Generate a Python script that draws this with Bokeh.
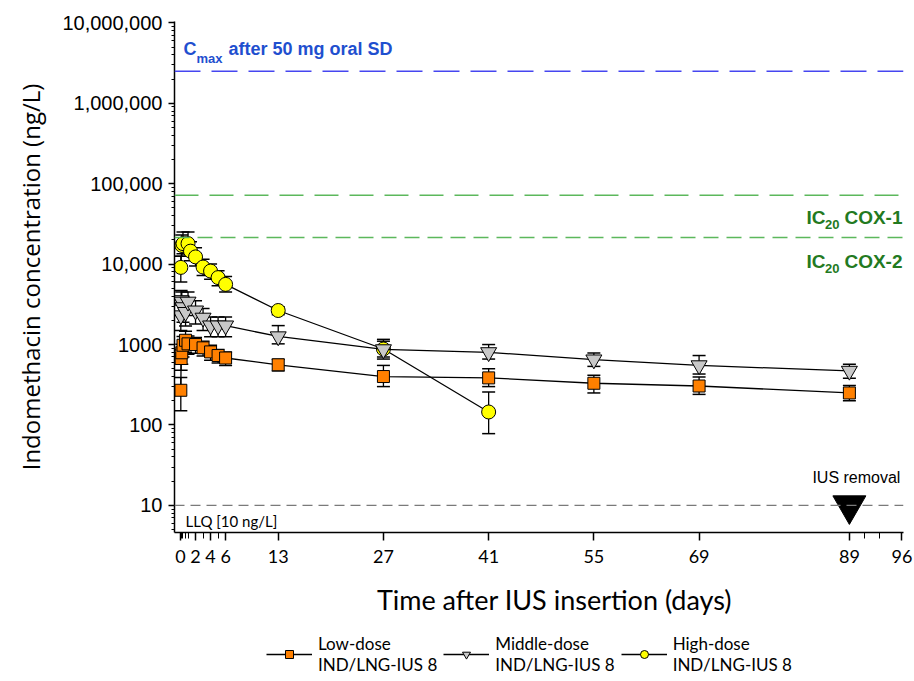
from bokeh.plotting import figure
from bokeh.layouts import column
from bokeh.models import (ColumnDataSource, Whisker, TeeHead, Span, Label, Range1d,
                          FixedTicker, CustomJSTickFormatter, Legend, LegendItem)
from bokeh.embed import file_html
from bokeh.resources import INLINE

# ---------------- data ----------------
low_days = [0.04, 0.08, 0.17, 0.33, 0.67, 1, 2, 3, 4, 5, 6, 13, 27, 41, 55, 69, 89]
low_mean = [270, 670, 790, 980, 1130, 1020, 1000, 910, 810, 730, 680, 560, 400, 385, 330, 305, 250]
low_lo = [150, 480, 570, 700, 800, 760, 780, 720, 640, 590, 550, 470, 300, 300, 250, 240, 200]
low_hi = [390, 860, 1010, 1260, 1460, 1280, 1220, 1100, 980, 870, 810, 655, 550, 500, 415, 395, 310]

mid_days = [0.04, 0.08, 0.17, 0.33, 0.67, 1, 2, 3, 4, 5, 6, 13, 27, 41, 55, 69, 89]
mid_mean = [2300, 3550, 3400, 2900, 2530, 3400, 2640, 2150, 1720, 1720, 1720, 1260, 870, 800, 650, 550, 470]
mid_lo = [1500, 2400, 2300, 1900, 1700, 2300, 1800, 1500, 1250, 1250, 1250, 1020, 660, 660, 535, 430, 380]
mid_hi = [3100, 4700, 4500, 3900, 3400, 4500, 3500, 2800, 2200, 2200, 2200, 1720, 1160, 1000, 785, 730, 570]

high_days = [0.04, 0.17, 0.33, 1, 1.33, 2, 3, 4, 5, 6, 13, 27, 41]
high_mean = [9100, 17100, 18000, 18000, 14500, 12300, 9200, 8200, 6800, 5600, 2650, 880, 145]
high_lo = [6000, 12500, 13500, 13500, 11000, 9500, 7200, 6500, 5400, 4500, 2350, 700, 78]
high_hi = [12500, 23000, 25000, 25000, 19000, 16000, 11500, 10000, 8300, 7000, 2950, 1100, 257]

cmax_50mg = 2.5e6
ic20_cox1 = 72000
ic20_cox2 = 21500
llq = 10
removal_day = 89

x_ticks = [0, 2, 4, 6, 13, 27, 41, 55, 69, 89, 96]
x_minor = [0.04, 0.17, 0.33, 0.67, 1, 3, 5, 91, 93]
y_ticks = [10, 100, 1000, 10000, 100000, 1000000, 10000000]

series_names = ["Low-dose\nIND/LNG-IUS 8", "Middle-dose\nIND/LNG-IUS 8", "High-dose\nIND/LNG-IUS 8"]

# ---------------- main figure ----------------
p = figure(frame_width=729, frame_height=511, y_axis_type="log",
           x_range=Range1d(-0.8, 96.2), y_range=Range1d(4.6, 1.04e7),
           output_backend="svg", toolbar_location=None,
           min_border_left=174, min_border_right=11, min_border_top=21, min_border_bottom=40)
p.outline_line_color = None
p.grid.visible = False

p.xaxis.ticker = FixedTicker(ticks=x_ticks, minor_ticks=x_minor)
p.yaxis.ticker = FixedTicker(ticks=y_ticks,
                             minor_ticks=[m * 10 ** e for e in range(0, 7) for m in range(2, 10)])
p.yaxis.formatter = CustomJSTickFormatter(code="""
    const v = Math.round(tick);
    return v >= 10000 ? v.toLocaleString('en-US') : v.toString();
""")
for ax in (p.xaxis[0], p.yaxis[0]):
    ax.axis_line_color = "black"
    ax.axis_line_width = 1.5
    ax.major_tick_line_color = "black"
    ax.minor_tick_line_color = "black"
    ax.major_tick_line_width = 1.5
    ax.major_tick_in = 0
    ax.minor_tick_in = 0
p.xaxis.major_tick_out = 8
p.xaxis.minor_tick_out = 6
p.yaxis.major_tick_out = 6
p.yaxis.minor_tick_out = 3

p.xaxis.major_label_text_font = "Lato"
p.xaxis.major_label_text_font_size = "18px"
p.xaxis.major_label_text_color = "black"
p.xaxis.major_label_standoff = 9

p.yaxis.major_label_text_font = "Liberation Sans"
p.yaxis.major_label_text_font_size = "20px"
p.yaxis.major_label_text_color = "black"
p.yaxis.major_label_standoff = 6
p.yaxis.axis_label = "Indomethacin concentration (ng/L)"
p.yaxis.axis_label_text_font = "Open Sans"
p.yaxis.axis_label_text_font_size = "24px"
p.yaxis.axis_label_text_font_style = "normal"
p.yaxis.axis_label_text_color = "black"
p.yaxis.axis_label_standoff = 12

# reference lines
p.add_layout(Span(location=cmax_50mg, dimension="width", line_color="#4646f0",
                  line_width=1.5, line_dash="26 11"))
p.add_layout(Span(location=ic20_cox1, dimension="width", line_color="#5cb85c",
                  line_width=1.5, line_dash="24 11"))
p.add_layout(Span(location=ic20_cox2, dimension="width", line_color="#5cb85c",
                  line_width=1.5, line_dash="15 8"))
p.add_layout(Span(location=llq, dimension="width", line_color="#7a7a7a",
                  line_width=1.2, line_dash="10 6"))

# reference labels
blue = "#1f4fcf"
green = "#237a1f"
p.add_layout(Label(x=0, y=cmax_50mg, x_offset=3, y_offset=22, text="C", text_font="Liberation Sans",
                   text_font_size="18px", text_font_style="bold", text_color=blue, text_baseline="middle"))
p.add_layout(Label(x=0, y=cmax_50mg, x_offset=16, y_offset=13, text="max", text_font="Liberation Sans",
                   text_font_size="13px", text_font_style="bold", text_color=blue, text_baseline="middle"))
p.add_layout(Label(x=0, y=cmax_50mg, x_offset=48, y_offset=22, text="after 50 mg oral SD",
                   text_font="Liberation Sans", text_font_size="18px", text_font_style="bold",
                   text_color=blue, text_baseline="middle"))

for val, dy, name in ((ic20_cox1, -22, "COX-1"), (ic20_cox2, -24, "COX-2")):
    p.add_layout(Label(x=96.2, y=val, x_offset=-1, y_offset=dy, text=name, text_font="Liberation Sans",
                       text_font_size="19px", text_font_style="bold", text_color=green,
                       text_align="right", text_baseline="middle"))
    p.add_layout(Label(x=96.2, y=val, x_offset=-64, y_offset=dy - 7, text="20", text_font="Liberation Sans",
                       text_font_size="13px", text_font_style="bold", text_color=green,
                       text_align="right", text_baseline="middle"))
    p.add_layout(Label(x=96.2, y=val, x_offset=-78, y_offset=dy, text="IC", text_font="Liberation Sans",
                       text_font_size="19px", text_font_style="bold", text_color=green,
                       text_align="right", text_baseline="middle"))

p.add_layout(Label(x=0, y=llq, x_offset=5, y_offset=-16, text="LLQ [10 ng/L]", text_font="Lato",
                   text_font_size="15px", text_color="black", text_baseline="middle"))
p.add_layout(Label(x=removal_day, y=llq, x_offset=7, y_offset=28, text="IUS removal",
                   text_font="Liberation Sans", text_font_size="16px", text_color="black",
                   text_align="center", text_baseline="middle"))

p.scatter(x=[removal_day], y=[llq], marker="inverted_triangle", size=33,
          fill_color="black", line_color="black")

series = [
    (series_names[2], high_days, high_mean, high_lo, high_hi, "circle", 14, "#FFFF00"),
    (series_names[1], mid_days, mid_mean, mid_lo, mid_hi, "inverted_triangle", 16, "#C8C8C8"),
    (series_names[0], low_days, low_mean, low_lo, low_hi, "square", 12, "#FF8000"),
]
style = {}
for label, d, m, lo, hi, mk, sz, col in series:
    src = ColumnDataSource(dict(day=d, mean=m, lo=lo, hi=hi))
    p.add_layout(Whisker(source=src, base="day", lower="lo", upper="hi", line_color="black", line_width=1.3,
                         upper_head=TeeHead(size=13, line_color="black", line_width=1.5),
                         lower_head=TeeHead(size=13, line_color="black", line_width=1.5)))
    p.line("day", "mean", source=src, line_color="black", line_width=1.3)
    p.scatter("day", "mean", source=src, marker=mk, size=sz, fill_color=col,
              line_color="black", line_width=1)
    style[label] = (mk, sz, col)

# ---------------- bottom strip: x-axis title and legend ----------------
# the strip's frame is aligned with the main frame (page x 174..903), so its
# x range is expressed in page pixels.
p2 = figure(width=914, height=109, x_range=Range1d(174, 903), y_range=Range1d(0, 109),
            output_backend="svg", toolbar_location=None,
            min_border_left=174, min_border_right=11, min_border_top=0, min_border_bottom=0)
p2.axis.visible = False
p2.grid.visible = False
p2.outline_line_color = None

p2.add_layout(Label(x=554, y=82, text="Time after IUS insertion (days)", text_font="Lato",
                    text_font_size="27px", text_color="black",
                    text_align="center", text_baseline="middle"))

nan = float("nan")
items = []
for name in series_names:
    mk, sz, col = style[name]
    ln = p2.line(x=[nan], y=[nan], line_color="black", line_width=1.3)
    sc = p2.scatter(x=[nan], y=[nan], marker=mk, size=sz, fill_color=col, line_color="black", line_width=1)
    items.append(LegendItem(label=name, renderers=[ln, sc]))

legend = Legend(items=items, orientation="horizontal", location=(92, 6),
                label_text_font="Lato", label_text_font_size="17px", label_text_color="black",
                label_text_line_height=1.45,
                glyph_width=46, glyph_height=20, label_standoff=6, spacing=6,
                border_line_color=None, background_fill_alpha=0, padding=2, margin=0)
p2.add_layout(legend)

layout = column(p, p2, spacing=0)
open("out.html", "w").write(file_html(layout, INLINE))
